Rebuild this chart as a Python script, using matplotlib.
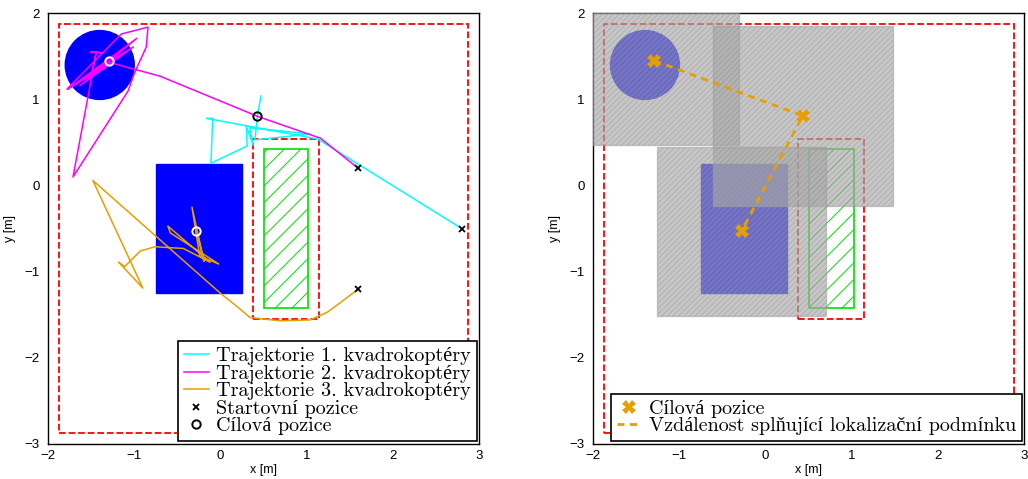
import matplotlib
matplotlib.use('Agg')
import matplotlib.pyplot as plt
from matplotlib.patches import Rectangle, Circle
from matplotlib.font_manager import FontProperties

# start positions (x markers)
start_x = [2.80, 1.60, 1.60]
start_y = [-0.50, 0.20, -1.20]

# target positions
target_x = [-1.29, 0.43, -0.28]
target_y = [1.45, 0.81, -0.53]
target_edge = ['white', 'black', 'white']

# half size of localisation squares (right plot)
loc_half = [0.98, 1.045, 0.98]

# trajectories
traj1_x = [2.80, 1.13, -0.16, -0.09, -0.11, 0.31, 0.30, 0.38, 0.34, 1.04, 0.40, 0.43, 0.47]
traj1_y = [-0.50, 0.54, 0.78, 0.78, 0.26, 0.46, 0.69, 0.47, 0.67, 0.60, 0.53, 0.81, 1.04]

traj2_x = [1.60, 1.16, 0.44, -0.70, -1.29, -1.77, -0.97, -1.63, -1.01, -1.49, -1.44, -1.51,
           -1.36, -1.44, -1.71, -1.07, -1.00, -0.86, -0.84, -1.15, -1.78, -1.28]
traj2_y = [0.20, 0.55, 0.80, 1.27, 1.43, 1.12, 1.71, 1.16, 1.61, 1.32, 1.55, 1.55,
           1.54, 1.55, 0.10, 1.10, 1.30, 1.61, 1.84, 1.76, 1.12, 1.41]

traj3_x = [1.60, 1.39, 1.24, 1.04, 0.69, 0.34, 0.20, 0.00, -1.48, -0.90, -1.18, -1.11,
           -0.93, -0.76, -0.43, -0.12, -0.61, -0.58, -0.02, -0.24, -0.33, -0.19, -0.28]
traj3_y = [-1.20, -1.36, -1.47, -1.56, -1.57, -1.53, -1.41, -1.25, 0.06, -1.19, -0.89, -0.94,
           -0.76, -0.71, -0.73, -0.89, -0.47, -0.55, -0.91, -0.82, -0.25, -0.88, -0.53]

# obstacles / areas
outer_box = (-1.875, -2.875, 4.75, 4.75)
inner_box = (0.375, -1.55, 0.77, 2.095)
green_box = (0.50, -1.425, 0.52, 1.845)
blue_rect = (-0.75, -1.25, 1.0, 1.5)
blue_circle = (-1.40, 1.40, 0.40)

c1 = '#00ffff'
c2 = '#ff00ff'
c3 = '#e69f00'

serif = FontProperties(family=['cmr10', 'Liberation Serif'], size=14.5)
plt.rcParams['font.family'] = ['Liberation Sans', 'DejaVu Sans']
plt.rcParams['hatch.linewidth'] = 0.7


def draw_map(ax):
    ax.add_patch(Rectangle(outer_box[:2], outer_box[2], outer_box[3], fill=False,
                           edgecolor='red', ls='--', lw=1.3, zorder=1))
    ax.add_patch(Rectangle(inner_box[:2], inner_box[2], inner_box[3], fill=False,
                           edgecolor='red', ls='--', lw=1.3, zorder=1))
    ax.add_patch(Rectangle(green_box[:2], green_box[2], green_box[3], facecolor='none',
                           edgecolor='#00e000', hatch='//', lw=1.2, zorder=1))
    ax.add_patch(Rectangle(blue_rect[:2], blue_rect[2], blue_rect[3], color='blue', zorder=1))
    ax.add_patch(Circle(blue_circle[:2], blue_circle[2], color='blue', zorder=1))


def style(ax):
    ax.set_xlim(-2, 3)
    ax.set_ylim(-3, 2)
    ax.set_xticks(range(-2, 4))
    ax.set_yticks(range(-3, 3))
    ax.tick_params(length=0, labelsize=9.5)
    ax.tick_params(axis='x', pad=4)
    ax.tick_params(axis='y', pad=6)
    ax.set_xlabel('x [m]', fontsize=9, labelpad=2)
    ax.set_ylabel('y [m]', fontsize=9, labelpad=6)
    for s in ax.spines.values():
        s.set_linewidth(1.0)


def legend(ax, h, l):
    leg = ax.legend(h, l, loc='lower right', bbox_to_anchor=(0.995, 0.006), borderaxespad=0,
                    prop=serif, fancybox=False, framealpha=1, edgecolor='black',
                    handlelength=1.25, handletextpad=0.35, labelspacing=-0.03, borderpad=0.3)
    leg.get_frame().set_linewidth(1.2)


fig = plt.figure(figsize=(10.28, 4.79), dpi=100)
ax1 = fig.add_axes([0.0467, 0.0731, 0.4193, 0.8991])
ax2 = fig.add_axes([0.5771, 0.0731, 0.4193, 0.8991])

# left
draw_map(ax1)
ax1.plot(traj1_x, traj1_y, color=c1, lw=1.1, label='Trajektorie 1. kvadrokoptéry', zorder=3)
ax1.plot(traj2_x, traj2_y, color=c2, lw=1.1, label='Trajektorie 2. kvadrokoptéry', zorder=3)
ax1.plot(traj3_x, traj3_y, color=c3, lw=1.1, label='Trajektorie 3. kvadrokoptéry', zorder=3)
ax1.plot(start_x, start_y, 'x', color='black', ms=5, mew=1.3, label='Startovní pozice', zorder=4)
for i in range(3):
    ax1.plot(target_x[i], target_y[i], 'o', mfc='none', mec=target_edge[i], ms=6, mew=1.4, zorder=4,
             label='Cílová pozice' if i == 1 else None)
h, l = ax1.get_legend_handles_labels()
legend(ax1, h, l)
style(ax1)

# right
draw_map(ax2)
for i in range(3):
    d = loc_half[i]
    ax2.add_patch(Rectangle((target_x[i] - d, target_y[i] - d), 2 * d, 2 * d,
                            facecolor=(0.66, 0.66, 0.66, 0.64), edgecolor=(0.6, 0.6, 0.6, 0.5),
                            hatch='//////', lw=1.0, zorder=3))
ax2.plot(target_x, target_y, '--', color=c3, lw=2, dashes=(2.5, 2), zorder=5,
         label='Vzdálenost splňující lokalizační podmínku')
ax2.plot(target_x, target_y, 'X', color=c3, ms=10, mew=0, ls='none', zorder=6, label='Cílová pozice')
h, l = ax2.get_legend_handles_labels()
legend(ax2, [h[1], h[0]], [l[1], l[0]])
style(ax2)

fig.savefig('out.png', dpi=100)
